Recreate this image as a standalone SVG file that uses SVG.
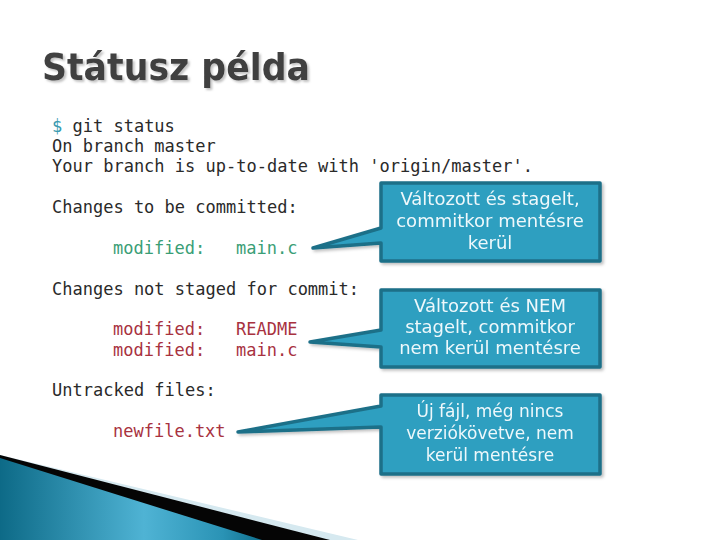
<svg xmlns="http://www.w3.org/2000/svg" width="720" height="540" viewBox="0 0 720 540">
<style>
.mono{font-family:"DejaVu Sans Mono","Liberation Mono",monospace;font-size:17px;fill:#2a2a2a}
.g{fill:#3a9e76}
.r{fill:#a8323f}
.call{fill:#2e9fc0;stroke:#1d6f88;stroke-width:3.5;stroke-linejoin:round}
.ct{font-family:"DejaVu Sans","Verdana",sans-serif;font-size:18px;fill:#eef8fb;text-anchor:middle}
.ct3{font-size:17px}
.title{font-family:"DejaVu Sans","Open Sans",sans-serif;font-weight:bold;font-size:38px;fill:#404040}
</style>
<defs>
<linearGradient id="wave" x1="0" y1="0" x2="1" y2="0">
<stop offset="0" stop-color="#0d6a87"/>
<stop offset="0.55" stop-color="#4fb3d4"/>
<stop offset="0.85" stop-color="#2a93b5"/>
<stop offset="1" stop-color="#0f6f8d"/>
</linearGradient>
<filter id="sh" x="-10%" y="-10%" width="130%" height="130%">
<feDropShadow dx="2" dy="2" stdDeviation="1.5" flood-color="#000" flood-opacity="0.25"/>
</filter>
<filter id="tsh" x="-5%" y="-20%" width="115%" height="150%">
<feDropShadow dx="2" dy="2" stdDeviation="0.8" flood-color="#9a9a9a" flood-opacity="0.6"/>
</filter>
</defs>
<rect width="720" height="540" fill="#ffffff"/>
<g id="decoration">
<polygon points="0,455 358,540 0,540" fill="#d6e9f0"/>
<polygon points="0,455 330,540 0,540" fill="#050505"/>
<polygon points="0,458 262,540 0,540" fill="url(#wave)"/>
</g>
<g id="title">
<text x="42" y="80" class="title" filter="url(#tsh)" textLength="268" lengthAdjust="spacingAndGlyphs">Státusz példa</text>
</g>
<g id="terminal">
<text x="52" y="132" class="mono"><tspan fill="#3a9bb0">$</tspan> git status</text>
<text x="52" y="152" class="mono">On branch master</text>
<text x="52" y="172" class="mono">Your branch is up-to-date with 'origin/master'.</text>
<text x="52" y="213" class="mono">Changes to be committed:</text>
<text x="113" y="254" class="mono g">modified:</text>
<text x="236" y="254" class="mono g">main.c</text>
<text x="52" y="295" class="mono">Changes not staged for commit:</text>
<text x="113" y="335" class="mono r">modified:</text>
<text x="236" y="335" class="mono r">README</text>
<text x="113" y="356" class="mono r">modified:</text>
<text x="236" y="356" class="mono r">main.c</text>
<text x="52" y="396" class="mono">Untracked files:</text>
<text x="113" y="437" class="mono r">newfile.txt</text>
</g>
<g id="connectors"></g>
<g id="callout1" filter="url(#sh)">
<path class="call" d="M381,183 H600 V261 H381 V243 L313,248 L381,228 Z"/>
<text x="490" y="205" class="ct">Változott és stagelt,</text>
<text x="490" y="227" class="ct">commitkor mentésre</text>
<text x="490" y="249" class="ct">kerül</text>
</g>
<g id="callout2" filter="url(#sh)">
<path class="call" d="M381,290 H600 V367 H381 V347 L310,342 L381,330 Z"/>
<text x="490" y="312" class="ct">Változott és NEM</text>
<text x="490" y="333" class="ct">stagelt, commitkor</text>
<text x="490" y="354" class="ct">nem kerül mentésre</text>
</g>
<g id="callout3" filter="url(#sh)">
<path class="call" d="M381,395 H600 V474 H381 V427 L238,432 L381,406 Z"/>
<text x="490" y="417" class="ct ct3">Új fájl, még nincs</text>
<text x="490" y="439" class="ct ct3">verziókövetve, nem</text>
<text x="490" y="461" class="ct ct3">kerül mentésre</text>
</g>
</svg>
